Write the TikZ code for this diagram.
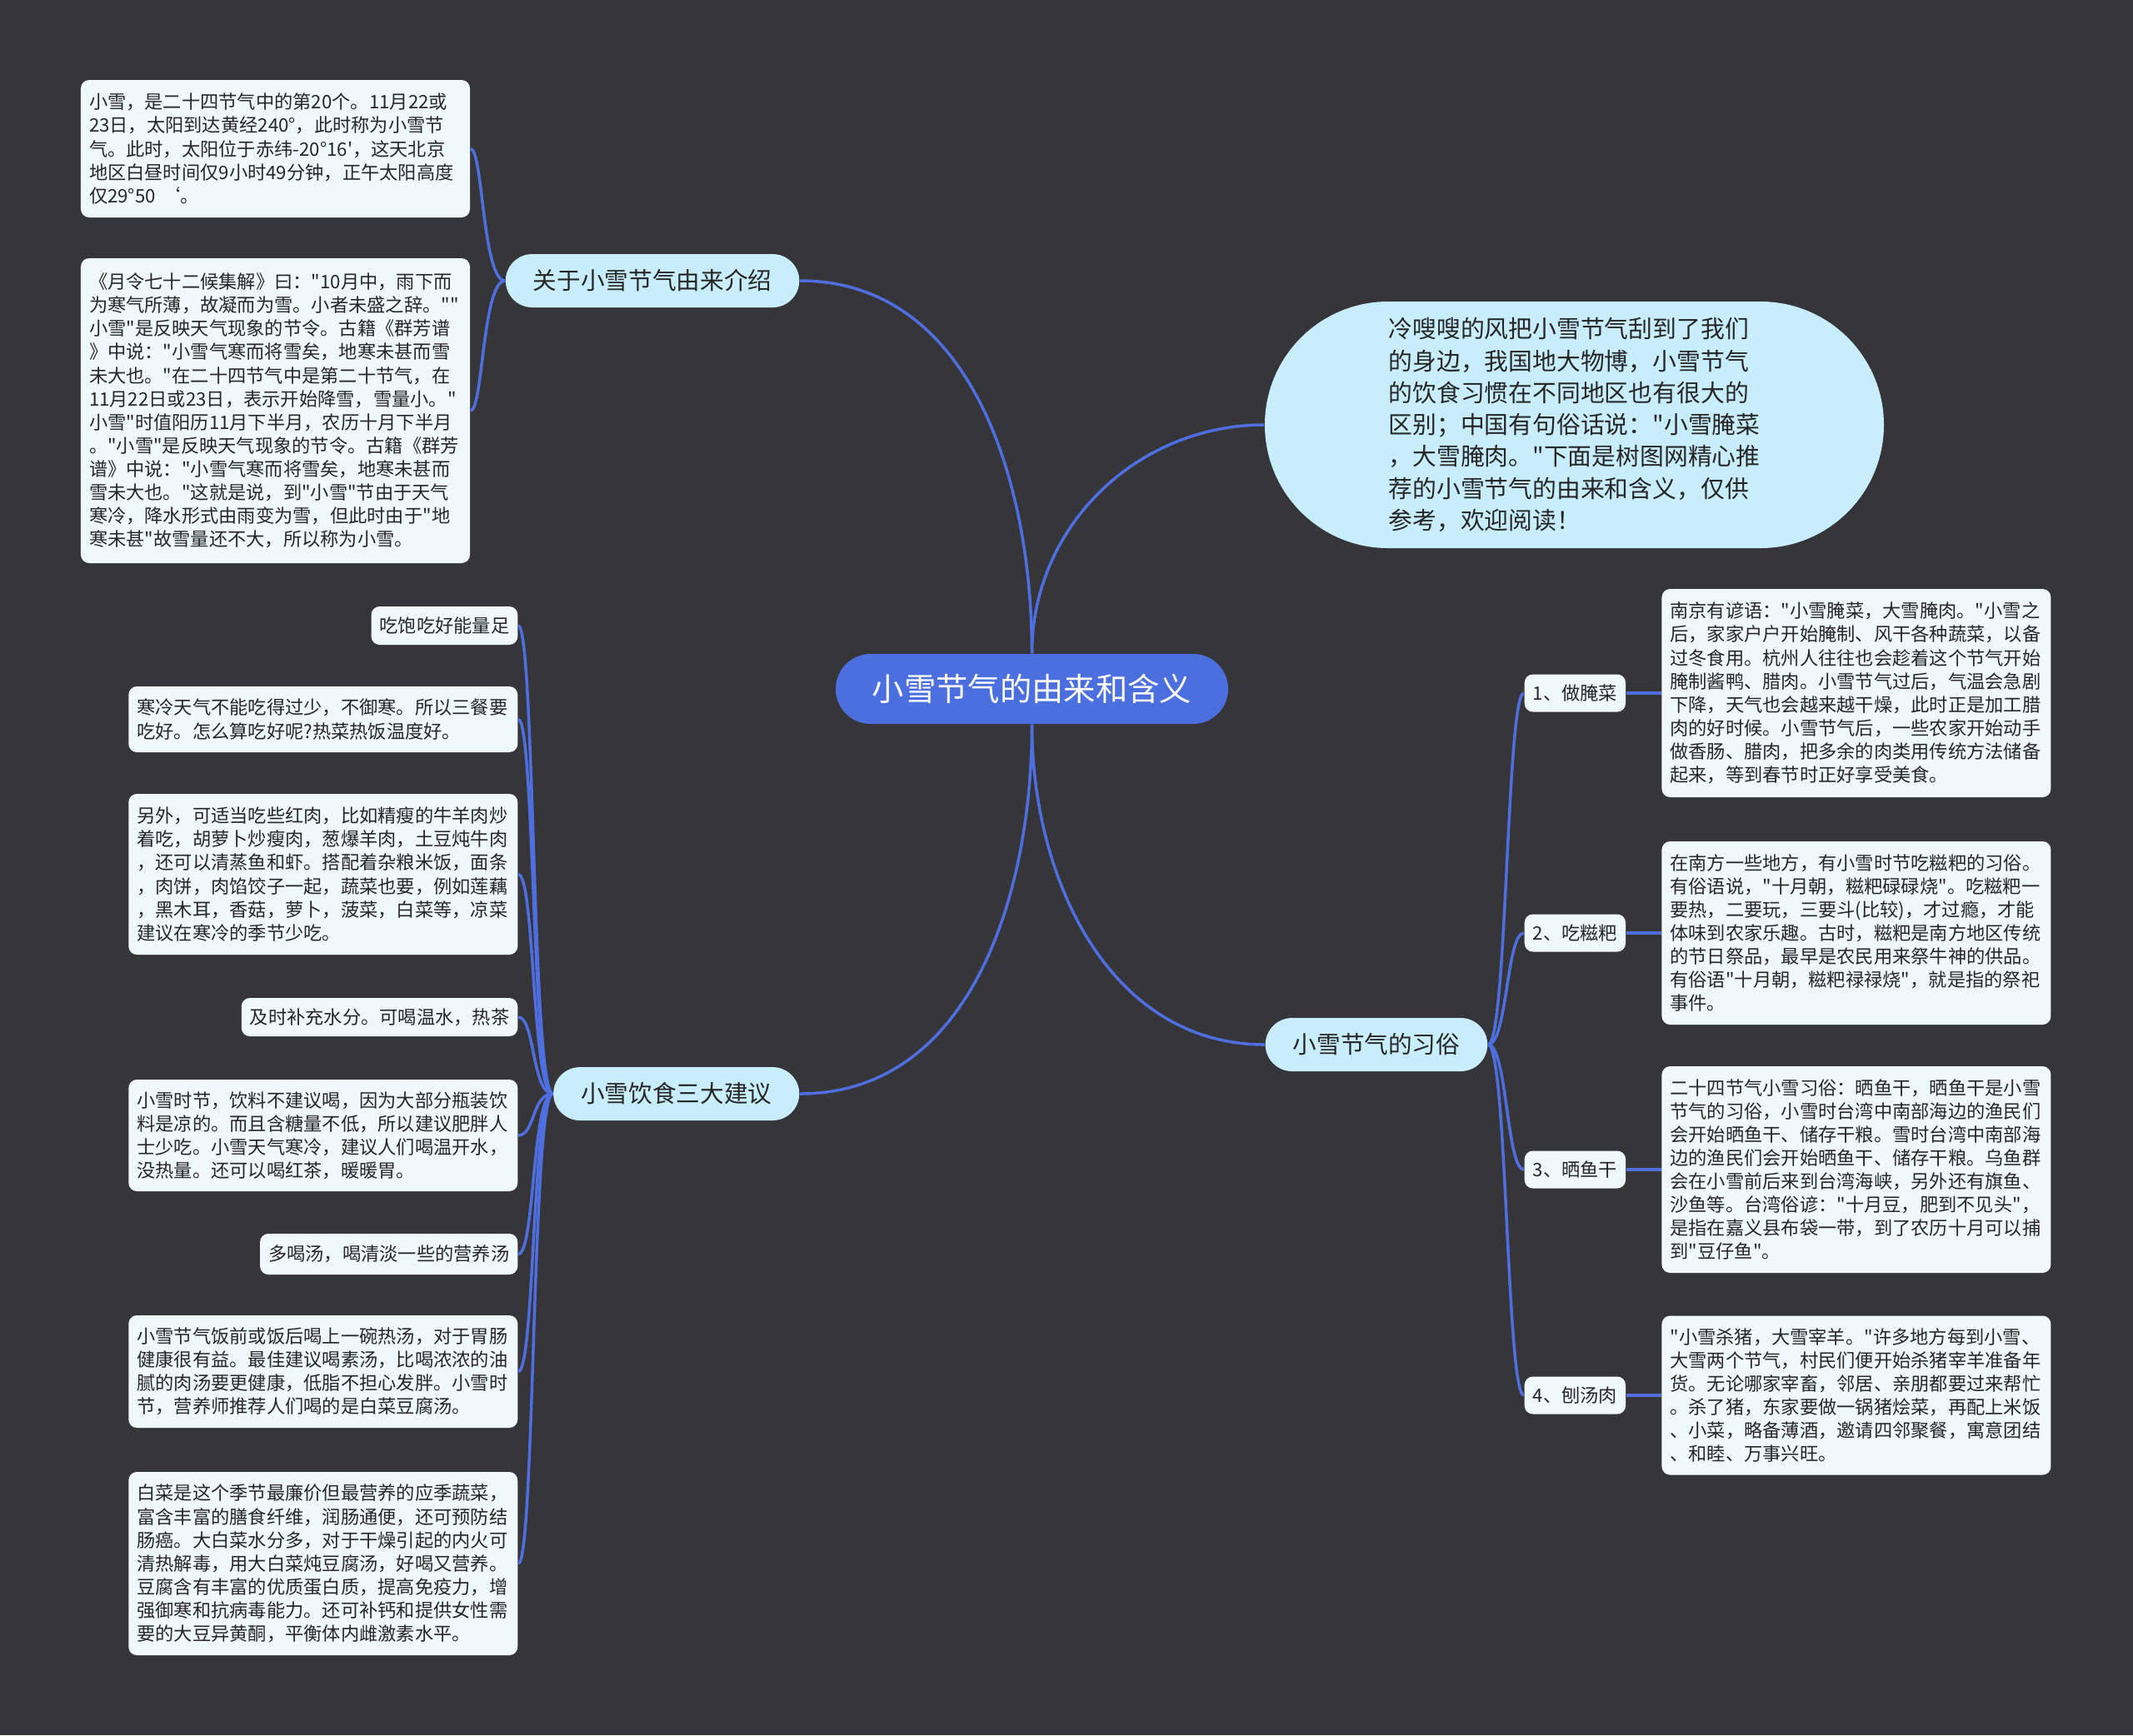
\documentclass[tikz,border=0pt]{standalone}
\usepackage{fontspec}
\newfontfamily\cjk{Noto Sans CJK SC}
\usetikzlibrary{positioning}
\definecolor{BgDark}    {HTML}{363539}
\definecolor{RootBlue}  {HTML}{4C6FDF}
\definecolor{BranchCyan}{HTML}{C8EDFD}
\definecolor{LeafWhite} {HTML}{EFF9FC}
\definecolor{LinkBlue}  {HTML}{4F6FE0}
\definecolor{InkDark}   {HTML}{262626}
\tikzset{
  every node/.style={font=\cjk},
  % central topic
  root/.style={fill=RootBlue, text=white, rounded corners=0.42cm,
               minimum height=0.84cm, inner xsep=0.44cm,
               font=\cjk\fontsize{10.9}{13}\selectfont},
  % first level topics
  branch/.style={fill=BranchCyan, text=InkDark, rounded corners=0.32cm,
                 minimum height=0.64cm, inner xsep=0.33cm,
                 font=\cjk\fontsize{8.15}{10}\selectfont},
  intro/.style={branch, rounded corners=1.48cm, minimum width=7.43cm,
                minimum height=2.96cm, align=left,
                font=\cjk\fontsize{8.2}{10.9}\selectfont},
  % leaf cards
  leaf/.style={fill=LeafWhite, text=InkDark, rounded corners=0.1cm,
               inner xsep=0.1cm, inner ysep=0.12cm, align=left,
               font=\cjk\fontsize{6.33}{8.0}\selectfont},
  card/.style={leaf, text width=4.47cm},
  link/.style={draw=LinkBlue, line width=0.35mm},
}
\begin{document}
\begin{tikzpicture}
\fill[BgDark] (0,0) rectangle (25.6,-20.83);

\node[root] (root) at (12.385,-8.27) {小雪节气的由来和含义};
\node[branch, anchor=east] (origin) at (9.60,-3.37) {关于小雪节气由来介绍};
\node[intro] (intro) at (18.895,-5.10) {冷嗖嗖的风把小雪节气刮到了我们\\的身边，我国地大物博，小雪节气\\的饮食习惯在不同地区也有很大的\\区别；中国有句俗话说："小雪腌菜\\，大雪腌肉。"下面是树图网精心推\\荐的小雪节气的由来和含义，仅供\\参考，欢迎阅读！};
\node[branch, anchor=east] (diet) at (9.60,-13.13) {小雪饮食三大建议};
\node[branch, anchor=west] (custom) at (15.18,-12.54) {小雪节气的习俗};

% origin notes
\node[card, minimum height=1.65cm] (o1) at (3.305,-1.785) {小雪，是二十四节气中的第20个。11月22或\\23日，太阳到达黄经240°，此时称为小雪节\\气。此时，太阳位于赤纬-20°16'，这天北京\\地区白昼时间仅9小时49分钟，正午太阳高度\\仅29°50 ‘。};
\node[card, minimum height=3.66cm] (o2) at (3.305,-4.93) {《月令七十二候集解》曰："10月中，雨下而\\为寒气所薄，故凝而为雪。小者未盛之辞。""\\小雪"是反映天气现象的节令。古籍《群芳谱\\》中说："小雪气寒而将雪矣，地寒未甚而雪\\未大也。"在二十四节气中是第二十节气，在\\11月22日或23日，表示开始降雪，雪量小。"\\小雪"时值阳历11月下半月，农历十月下半月\\。"小雪"是反映天气现象的节令。古籍《群芳\\谱》中说："小雪气寒而将雪矣，地寒未甚而\\雪未大也。"这就是说，到"小雪"节由于天气\\寒冷，降水形式由雨变为雪，但此时由于"地\\寒未甚"故雪量还不大，所以称为小雪。};

% diet notes
\node[leaf, anchor=east, minimum height=0.46cm] (d1) at (6.22,-7.51) {吃饱吃好能量足};
\node[card, anchor=east, minimum height=0.79cm] (d2) at (6.22,-8.635) {寒冷天气不能吃得过少，不御寒。所以三餐要\\吃好。怎么算吃好呢?热菜热饭温度好。};
\node[card, anchor=east, minimum height=1.93cm] (d3) at (6.22,-10.495) {另外，可适当吃些红肉，比如精瘦的牛羊肉炒\\着吃，胡萝卜炒瘦肉，葱爆羊肉，土豆炖牛肉\\，还可以清蒸鱼和虾。搭配着杂粮米饭，面条\\，肉饼，肉馅饺子一起，蔬菜也要，例如莲藕\\，黑木耳，香菇，萝卜，菠菜，白菜等，凉菜\\建议在寒冷的季节少吃。};
\node[leaf, anchor=east, minimum height=0.46cm] (d4) at (6.22,-12.21) {及时补充水分。可喝温水，热茶};
\node[card, anchor=east, minimum height=1.34cm] (d5) at (6.22,-13.63) {小雪时节，饮料不建议喝，因为大部分瓶装饮\\料是凉的。而且含糖量不低，所以建议肥胖人\\士少吃。小雪天气寒冷，建议人们喝温开水，\\没热量。还可以喝红茶，暖暖胃。};
\node[leaf, anchor=east, minimum height=0.49cm] (d6) at (6.22,-15.055) {多喝汤，喝清淡一些的营养汤};
\node[card, anchor=east, minimum height=1.35cm] (d7) at (6.22,-16.465) {小雪节气饭前或饭后喝上一碗热汤，对于胃肠\\健康很有益。最佳建议喝素汤，比喝浓浓的油\\腻的肉汤要更健康，低脂不担心发胖。小雪时\\节，营养师推荐人们喝的是白菜豆腐汤。};
\node[card, anchor=east, minimum height=2.20cm] (d8) at (6.22,-18.77) {白菜是这个季节最廉价但最营养的应季蔬菜，\\富含丰富的膳食纤维，润肠通便，还可预防结\\肠癌。大白菜水分多，对于干燥引起的内火可\\清热解毒，用大白菜炖豆腐汤，好喝又营养。\\豆腐含有丰富的优质蛋白质，提高免疫力，增\\强御寒和抗病毒能力。还可补钙和提供女性需\\要的大豆异黄酮，平衡体内雌激素水平。};

% customs
\node[leaf, anchor=west, minimum height=0.45cm] (c1) at (18.29,-8.32) {1、做腌菜};
\node[leaf, anchor=west, minimum height=0.45cm] (c2) at (18.29,-11.20) {2、吃糍粑};
\node[leaf, anchor=west, minimum height=0.45cm] (c3) at (18.29,-14.04) {3、晒鱼干};
\node[leaf, anchor=west, minimum height=0.45cm] (c4) at (18.29,-16.75) {4、刨汤肉};
\node[card, minimum height=2.50cm, right=0.42cm of c1] (t1) {南京有谚语："小雪腌菜，大雪腌肉。"小雪之\\后，家家户户开始腌制、风干各种蔬菜，以备\\过冬食用。杭州人往往也会趁着这个节气开始\\腌制酱鸭、腊肉。小雪节气过后，气温会急剧\\下降，天气也会越来越干燥，此时正是加工腊\\肉的好时候。小雪节气后，一些农家开始动手\\做香肠、腊肉，把多余的肉类用传统方法储备\\起来，等到春节时正好享受美食。};
\node[card, minimum height=2.20cm, right=0.42cm of c2] (t2) {在南方一些地方，有小雪时节吃糍粑的习俗。\\有俗语说，"十月朝，糍粑碌碌烧"。吃糍粑一\\要热，二要玩，三要斗(比较)，才过瘾，才能\\体味到农家乐趣。古时，糍粑是南方地区传统\\的节日祭品，最早是农民用来祭牛神的供品。\\有俗语"十月朝，糍粑禄禄烧"，就是指的祭祀\\事件。};
\node[card, minimum height=2.48cm, right=0.42cm of c3] (t3) {二十四节气小雪习俗：晒鱼干，晒鱼干是小雪\\节气的习俗，小雪时台湾中南部海边的渔民们\\会开始晒鱼干、储存干粮。雪时台湾中南部海\\边的渔民们会开始晒鱼干、储存干粮。乌鱼群\\会在小雪前后来到台湾海峡，另外还有旗鱼、\\沙鱼等。台湾俗谚："十月豆，肥到不见头"，\\是指在嘉义县布袋一带，到了农历十月可以捕\\到"豆仔鱼"。};
\node[card, minimum height=1.91cm, right=0.42cm of c4] (t4) {"小雪杀猪，大雪宰羊。"许多地方每到小雪、\\大雪两个节气，村民们便开始杀猪宰羊准备年\\货。无论哪家宰畜，邻居、亲朋都要过来帮忙\\。杀了猪，东家要做一锅猪烩菜，再配上米饭\\、小菜，略备薄酒，邀请四邻聚餐，寓意团结\\、和睦、万事兴旺。};

% main branches
\draw[link] (root.north) to[out=90,in=0]    (origin.east);
\draw[link] (root.north) to[out=90,in=180]  (intro.west);
\draw[link] (root.south) to[out=-90,in=0]   (diet.east);
\draw[link] (root.south) to[out=-90,in=180] (custom.west);

\draw[link] (origin.west) .. controls +(-0.27,0) and +(0.15,0) .. (o1.east);
\draw[link] (origin.west) .. controls +(-0.27,0) and +(0.15,0) .. (o2.east);

\draw[link] (diet.west) .. controls +(-0.25,0) and +(0.2,0) .. (d1.east);
\draw[link] (diet.west) .. controls +(-0.25,0) and +(0.2,0) .. (d2.east);
\draw[link] (diet.west) .. controls +(-0.25,0) and +(0.2,0) .. (d3.east);
\draw[link] (diet.west) .. controls +(-0.25,0) and +(0.2,0) .. (d4.east);
\draw[link] (diet.west) .. controls +(-0.25,0) and +(0.2,0) .. (d5.east);
\draw[link] (diet.west) .. controls +(-0.25,0) and +(0.2,0) .. (d6.east);
\draw[link] (diet.west) .. controls +(-0.25,0) and +(0.2,0) .. (d7.east);
\draw[link] (diet.west) .. controls +(-0.25,0) and +(0.2,0) .. (d8.east);

\draw[link] (custom.east) .. controls +(0.23,0) and +(-0.21,0) .. (c1.west);
\draw[link] (custom.east) .. controls +(0.23,0) and +(-0.21,0) .. (c2.west);
\draw[link] (custom.east) .. controls +(0.23,0) and +(-0.21,0) .. (c3.west);
\draw[link] (custom.east) .. controls +(0.23,0) and +(-0.21,0) .. (c4.west);

\draw[link] (c1.east) -- (t1.west);
\draw[link] (c2.east) -- (t2.west);
\draw[link] (c3.east) -- (t3.west);
\draw[link] (c4.east) -- (t4.west);
\end{tikzpicture}
\end{document}
